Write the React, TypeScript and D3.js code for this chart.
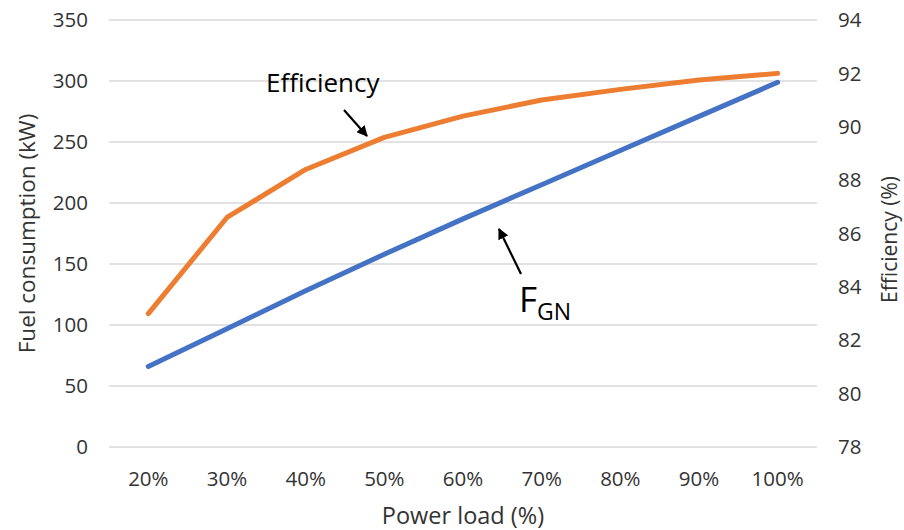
import React from "react";
import * as d3 from "d3";

const loads = ["20%", "30%", "40%", "50%", "60%", "70%", "80%", "90%", "100%"];
const fuelConsumption = [66, 97, 128, 158, 187, 215, 243, 271, 299];
const efficiency = [83.0, 86.6, 88.4, 89.6, 90.4, 91.0, 91.4, 91.75, 92.0];
const leftTicks = [0, 50, 100, 150, 200, 250, 300, 350];
const rightTicks = [78, 80, 82, 84, 86, 88, 90, 92, 94];

const W = 904;
const H = 530;
const plot = { left: 109, right: 817, top: 20, bottom: 447 };
const FONT = "'Open Sans', Lato, sans-serif";
const BLUE = "#4472C4";
const ORANGE = "#ED7D31";
const TEXT = "#333333";

export default function App() {
  const x = d3
    .scaleBand<string>()
    .domain(loads)
    .range([plot.left, plot.right])
    .paddingInner(0)
    .paddingOuter(0);
  const cx = (d: string) => (x(d) as number) + x.bandwidth() / 2;
  const yL = d3.scaleLinear().domain([0, 350]).range([plot.bottom, plot.top]);
  const yR = d3.scaleLinear().domain([78, 94]).range([plot.bottom, plot.top]);

  const fuelLine = d3
    .line<number>()
    .x((_, i) => cx(loads[i]))
    .y((v) => yL(v))(fuelConsumption) as string;
  const effLine = d3
    .line<number>()
    .x((_, i) => cx(loads[i]))
    .y((v) => yR(v))(efficiency) as string;

  return (
    <svg
      width={W}
      height={H}
      style={{ position: "absolute", left: 0, top: 0, background: "#fff" }}
      fontFamily={FONT}
    >
      <defs>
        <marker
          id="arrowHead"
          viewBox="0 0 10 10"
          refX="9"
          refY="5"
          markerWidth="5"
          markerHeight="5"
          orient="auto"
          markerUnits="strokeWidth"
        >
          <path d="M0,0 L10,5 L0,10 z" fill="#000" />
        </marker>
      </defs>

      {/* horizontal gridlines */}
      {leftTicks.map((t) => (
        <line
          key={"g" + t}
          x1={plot.left}
          x2={plot.right}
          y1={yL(t)}
          y2={yL(t)}
          stroke="#d9d9d9"
          strokeWidth={1.5}
        />
      ))}

      {/* left axis labels */}
      {leftTicks.map((t) => (
        <text
          key={"l" + t}
          x={88}
          y={yL(t)}
          dy="0.35em"
          textAnchor="end"
          fontSize={20.5}
          fill={TEXT}
        >
          {t}
        </text>
      ))}

      {/* right axis labels */}
      {rightTicks.map((t) => (
        <text
          key={"r" + t}
          x={838}
          y={yR(t)}
          dy="0.35em"
          textAnchor="start"
          fontSize={20.5}
          fill={TEXT}
        >
          {t}
        </text>
      ))}

      {/* category labels */}
      {loads.map((d) => (
        <text
          key={"x" + d}
          x={cx(d)}
          y={479}
          dy="0.35em"
          textAnchor="middle"
          fontSize={20.5}
          fill={TEXT}
        >
          {d}
        </text>
      ))}

      {/* axis titles */}
      <text
        transform={`translate(27,${(plot.top + plot.bottom) / 2}) rotate(-90)`}
        textAnchor="middle"
        dy="0.35em"
        fontSize={22.5}
        fill={TEXT}
      >
        Fuel consumption (kW)
      </text>
      <text
        transform={`translate(890,${(plot.top + plot.bottom) / 2 + 6}) rotate(-90)`}
        textAnchor="middle"
        dy="0.35em"
        fontSize={21}
        fill={TEXT}
      >
        Efficiency (%)
      </text>
      <text x={463} y={516} dy="0.35em" textAnchor="middle" fontSize={23.5} fill={TEXT}>
        Power load (%)
      </text>

      {/* series */}
      <path d={fuelLine} fill="none" stroke={BLUE} strokeWidth={5} strokeLinecap="round" strokeLinejoin="round" />
      <path d={effLine} fill="none" stroke={ORANGE} strokeWidth={5} strokeLinecap="round" strokeLinejoin="round" />

      {/* annotations */}
      <text x={266} y={83} dy="0.35em" fontSize={26} fill="#000">
        Efficiency
      </text>
      <line x1={344} y1={110} x2={367} y2={136} stroke="#000" strokeWidth={2.2} markerEnd="url(#arrowHead)" />

      <line x1={521} y1={274} x2={499} y2={229} stroke="#000" strokeWidth={2.2} markerEnd="url(#arrowHead)" />
      <text x={519} y={312} fontSize={35} fill="#000">
        F
        <tspan fontSize={23} dy={8}>
          GN
        </tspan>
      </text>
    </svg>
  );
}
